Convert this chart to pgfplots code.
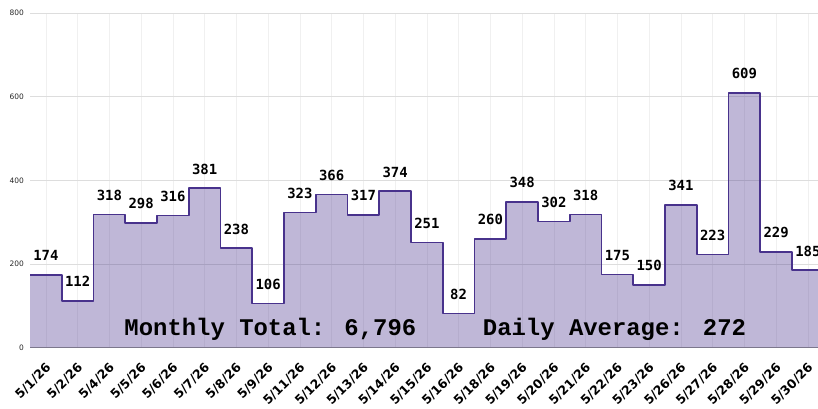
\documentclass[border=0pt]{standalone}
\usepackage{pgfplots}
\pgfplotsset{compat=1.18}
\usepackage{fontspec}
\setmainfont{DejaVu Sans}
\newfontfamily\valfont{DejaVu Sans Mono}
\newfontfamily\totfont{Liberation Mono}
\definecolor{linec}{RGB}{72,50,140}
\definecolor{gridc}{RGB}{221,221,221}
\begin{document}
\begin{tikzpicture}
\begin{axis}[
  at={(0,0)}, anchor=south west,
  scale only axis, width=788bp, height=334.8bp,
  xmin=-0.5, xmax=24.32, ymin=0, ymax=800,
  /pgf/number format/assume math mode=true,
  ytick={0,200,400,600,800},
  xtick={0,...,24},
  xticklabels={5/1/26,5/2/26,5/4/26,5/5/26,5/6/26,5/7/26,5/8/26,5/9/26,5/11/26,5/12/26,5/13/26,5/14/26,5/15/26,5/16/26,5/18/26,5/19/26,5/20/26,5/21/26,5/22/26,5/23/26,5/26/26,5/27/26,5/28/26,5/29/26,5/30/26},
  major tick length=0pt,
  axis x line*=bottom, axis y line*=left,
  x axis line style={draw=black!45, line width=0.8bp, -},
  y axis line style={draw=none},
  ymajorgrids, xmajorgrids,
  y grid style={gridc, line width=0.8bp},
  x grid style={black!6, line width=0.6bp},
  yticklabel style={font=\fontsize{7.5}{7.5}\selectfont, inner sep=0pt, anchor=east, xshift=-6bp, text=black!85},
  xticklabel style={font=\bfseries\fontsize{12.5}{12.5}\selectfont, inner sep=0pt, yshift=-14bp, xshift=-1bp, rotate=45, anchor=north east},
  clip=true,
]
\addplot[const plot, fill=linec, fill opacity=0.35, draw=none] coordinates {
(-0.5,174) (0.5,112) (1.5,318) (2.5,298) (3.5,316) (4.5,381) (5.5,238) (6.5,106) (7.5,323) (8.5,366) (9.5,317) (10.5,374) (11.5,251) (12.5,82) (13.5,260) (14.5,348) (15.5,302) (16.5,318) (17.5,175) (18.5,150) (19.5,341) (20.5,223) (21.5,609) (22.5,229) (23.5,185) (24.5,185)
} \closedcycle;
\addplot[const plot, draw=linec, line width=1.6bp, line join=round] coordinates {
(-0.5,174) (0.5,112) (1.5,318) (2.5,298) (3.5,316) (4.5,381) (5.5,238) (6.5,106) (7.5,323) (8.5,366) (9.5,317) (10.5,374) (11.5,251) (12.5,82) (13.5,260) (14.5,348) (15.5,302) (16.5,318) (17.5,175) (18.5,150) (19.5,341) (20.5,223) (21.5,609) (22.5,229) (23.5,185) (24.5,185)
};
\addplot[draw=none, mark=none, nodes near coords,
  nodes near coords style={font=\valfont\bfseries\fontsize{14}{14}\selectfont, anchor=south, inner sep=0pt, yshift=13.7bp, text=black}]
 coordinates {
(0,174) (1,112) (2,318) (3,298) (4,316) (5,381) (6,238) (7,106) (8,323) (9,366) (10,317) (11,374) (12,251) (13,82) (14,260) (15,348) (16,302) (17,318) (18,175) (19,150) (20,341) (21,223) (22,609) (23,229) (24,185)
};
\node[anchor=base west, inner sep=0pt, font=\totfont\bfseries\fontsize{24}{24}\selectfont] at (axis cs:2.47,28.7) {Monthly Total: 6,796};
\node[anchor=base west, inner sep=0pt, font=\totfont\bfseries\fontsize{24}{24}\selectfont] at (axis cs:13.76,28.7) {Daily Average: 272};
\end{axis}
\pgfresetboundingbox
\path[use as bounding box] (-30bp,-61.3bp) rectangle (788bp,347.7bp);
\end{tikzpicture}
\end{document}
